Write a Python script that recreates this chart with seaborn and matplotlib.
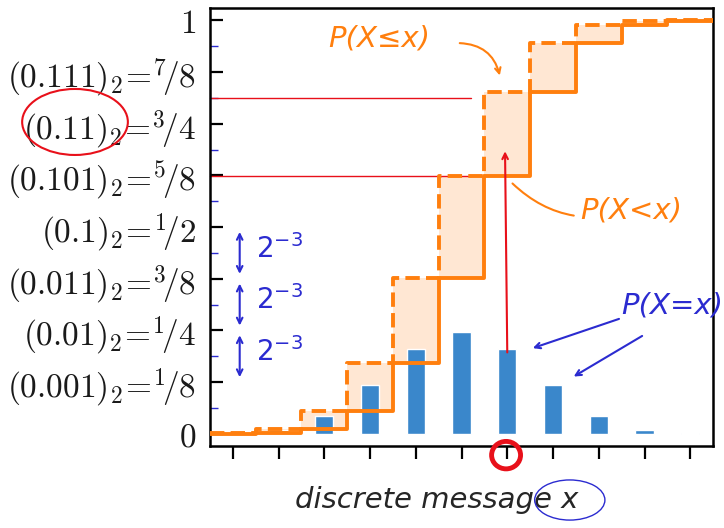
import numpy as np
import matplotlib
matplotlib.use("Agg")
import matplotlib.pyplot as plt
from matplotlib.patches import Ellipse
import seaborn as sns

# discrete messages and their probabilities P(X = x)
messages = list(range(11))
pmf = [0.001, 0.0098, 0.044, 0.117, 0.205, 0.246, 0.205, 0.117, 0.044, 0.0098, 0.001]

ytick_vals = [0, 1/8, 2/8, 3/8, 4/8, 5/8, 6/8, 7/8, 1]
ytick_labels = [r"$0$",
                r"$(0.001)_2\!=\!{}^{1}\!/8$",
                r"$(0.01)_2\!=\!{}^{1}\!/4$",
                r"$(0.011)_2\!=\!{}^{3}\!/8$",
                r"$(0.1)_2\!=\!{}^{1}\!/2$",
                r"$(0.101)_2\!=\!{}^{5}\!/8$",
                r"$(0.11)_2\!=\!{}^{3}\!/4$",
                r"$(0.111)_2\!=\!{}^{7}\!/8$",
                r"$1$"]

sns.set_style("ticks")
plt.rcParams["mathtext.fontset"] = "cm"

orange = "#ff7f0e"
blue = "#3a87cb"
pen_blue = "#2b2bd0"
red = "#e8101a"

fig = plt.figure(figsize=(7.24, 5.28), dpi=100)
ax = fig.add_axes([0.29, 0.155, 0.695, 0.83])

cdf = np.cumsum(pmf)
edges = np.append(np.array(messages) - 0.5, messages[-1] + 0.5)
below = np.concatenate([[0], cdf[:-1]])          # P(X < x)
upto = cdf                                        # P(X <= x)
below_s = np.append(below, below[-1])
upto_s = np.append(upto, upto[-1])

ax.fill_between(edges, below_s, upto_s, step="post", color=orange, alpha=0.18, lw=0)
sns.barplot(x=messages, y=pmf, color=blue, width=0.4, saturation=1, ax=ax, zorder=2)
ax.step(edges, below_s, where="post", color=orange, lw=2.8, zorder=3)
ax.step(edges, upto_s, where="post", color=orange, lw=2.8, ls="--", zorder=3)

ax.set_xlim(-0.5, 10.5)
ax.set_ylim(-0.03, 1.03)
ax.set_xticks(messages)
ax.set_xticklabels([])
ax.set_yticks(ytick_vals)
ax.set_yticklabels(ytick_labels, fontsize=24)
ax.set_yticks(np.arange(1, 16, 2) / 16, minor=True)
ax.tick_params(axis="y", which="major", direction="in", length=9, width=1.6,
               color="black", labelcolor="#1a1a1a", pad=10)
ax.tick_params(axis="y", which="minor", direction="in", length=6, width=1, color=pen_blue)
ax.tick_params(axis="x", direction="out", length=9, width=1.6, color="black")
for s in ax.spines.values():
    s.set_linewidth(1.8)
    s.set_color("black")
ax.set_xlabel("discrete message x", fontsize=21, fontstyle="italic", labelpad=14)
ax.xaxis.set_label_coords(0.45, -0.09)

# hand-written annotations
ax.text(3.2, 0.955, "P(X≤x)", color=orange, fontsize=21, fontstyle="italic", ha="center", va="center")
ax.annotate("", xy=(5.85, 0.86), xytext=(4.9, 0.945),
            arrowprops=dict(arrowstyle="->", color=orange, lw=1.5, connectionstyle="arc3,rad=-0.4"))
ax.annotate("P(X<x)", xy=(6.07, 0.61), xytext=(8.7, 0.54), color=orange, fontsize=21,
            fontstyle="italic", ha="center", va="center",
            arrowprops=dict(arrowstyle="-", color=orange, lw=1.5, connectionstyle="arc3,rad=-0.3"))
ax.text(9.6, 0.31, "P(X=x)", color=pen_blue, fontsize=21, fontstyle="italic", ha="center", va="center")
ax.annotate("", xy=(6.5, 0.205), xytext=(8.5, 0.28),
            arrowprops=dict(arrowstyle="->", color=pen_blue, lw=1.5))
ax.annotate("", xy=(7.4, 0.135), xytext=(9.0, 0.24),
            arrowprops=dict(arrowstyle="->", color=pen_blue, lw=1.5))
for lo, hi in [(3/8, 4/8), (2/8, 3/8), (1/8, 2/8)]:
    ax.annotate("", xy=(0.15, hi - 0.005), xytext=(0.15, lo + 0.005),
                arrowprops=dict(arrowstyle="<->", color=pen_blue, lw=1.5))
    ax.text(0.5, (lo + hi) / 2 + 0.01, r"$2^{-3}$", color=pen_blue, fontsize=20,
            va="center", math_fontfamily="dejavusans")

ax.plot([-0.5, 5.2], [cdf[6] - 0.015, cdf[6] - 0.015], color=red, lw=1, clip_on=False)
ax.plot([-0.5, 5.2], [cdf[5], cdf[5]], color=red, lw=1, clip_on=False)
ax.annotate("", xy=(5.95, 0.69), xytext=(6.0, 0.19),
            arrowprops=dict(arrowstyle="->", color=red, lw=1.5))

fig.add_artist(Ellipse((0.1036, 0.769), 0.146, 0.125, transform=fig.transFigure,
                       fill=False, ec=red, lw=1.5))
fig.add_artist(Ellipse((0.699, 0.138), 0.04, 0.052, transform=fig.transFigure,
                       fill=False, ec=red, lw=3.5))
fig.add_artist(Ellipse((0.787, 0.053), 0.097, 0.076, transform=fig.transFigure,
                       fill=False, ec=pen_blue, lw=1))

fig.savefig("out.png", dpi=100)
